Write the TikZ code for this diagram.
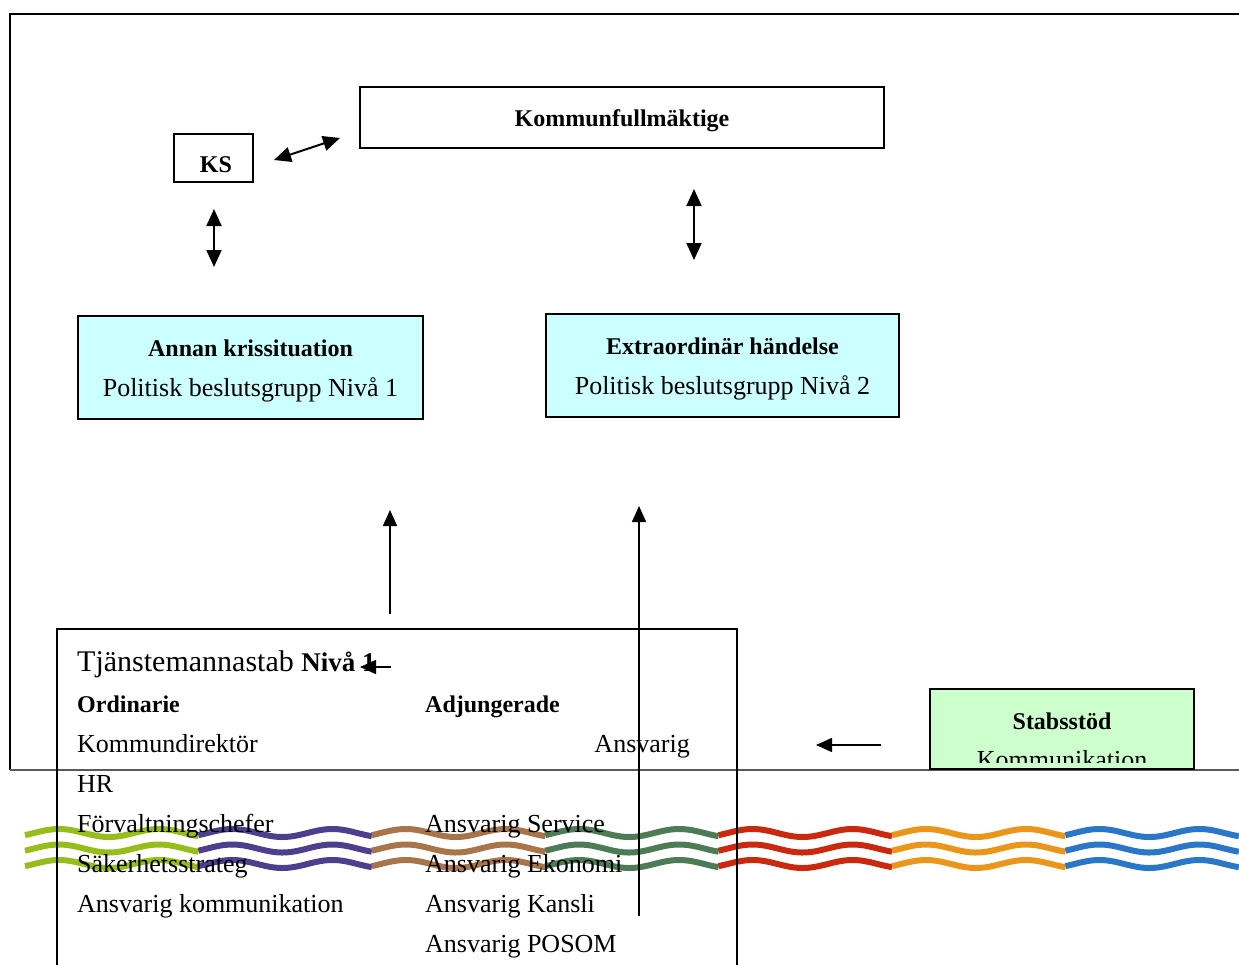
\documentclass[tikz,border=0pt]{standalone}
\usepackage{fontspec}
\setmainfont{Liberation Serif}
\usepackage[dvipsnames]{xcolor}
\definecolor{CrisisCyan}{HTML}{CCFFFF}
\definecolor{StaffGreen}{HTML}{CCFFCC}
\definecolor{WaveLime}{HTML}{97BD1C}
\definecolor{WavePurple}{HTML}{4E3F8E}
\definecolor{WaveBrown}{HTML}{A8754B}
\definecolor{WaveGreen}{HTML}{4C7B55}
\definecolor{WaveRed}{HTML}{C9290F}
\definecolor{WaveOrange}{HTML}{E9961B}
\definecolor{WaveBlue}{HTML}{2B77C7}
\usetikzlibrary{backgrounds}
\usetikzlibrary{calc}
\usetikzlibrary{arrows.meta}
\newcommand{\wavelen}{173.4}
\newcommand{\waveamp}{4}
\newcommand{\wavedeg}{3.6}% 360 / 100
\newcommand{\wavephase}{34}
\newcommand{\wavewidth}{6pt}
\newcommand{\waveys}{833}
\newcommand{\wavedy}{15.5}
\newcommand{\colleft}{77}
\newcommand{\colright}{425}
\newcommand{\bodyfont}{\fontsize{26}{30}\selectfont}
\newcommand{\headfont}{\fontsize{24}{30}\selectfont\bfseries}
\newcommand{\wavepart}[2]{
  \foreach \wrow in {0,1,2} {
    \draw[color=#1, line width=\wavewidth, shift={(#2,\waveys)}]
      plot[domain=0:\wavelen, samples=70]
      (\x, {\wrow*\wavedy - \waveamp*cos(\wavedeg*(\x - \wavephase))});
  }
}

\begin{document}
\begin{tikzpicture}[x=1pt, y=-1pt,
    box/.style={draw, line width=1.6pt, inner sep=0pt},
    coltxt/.style={inner sep=0pt, anchor=base west, font=\bodyfont},
    headtxt/.style={inner sep=0pt, anchor=base, font=\headfont},
    bodytxt/.style={inner sep=0pt, anchor=base, font=\bodyfont},
    dbl/.style={line width=2pt,
      {Triangle[length=17pt,width=15pt]}-{Triangle[length=17pt,width=15pt]}},
    sgl/.style={line width=1.6pt, -{Triangle[length=16pt,width=14pt]}}]
    \useasboundingbox (0,0) rectangle (1239,964);
    \clip (0,0) rectangle (1239,964);

    % page frame
    \draw[line width=1.5pt] (1239,14) -- (10,14) -- (10,770);
    \draw[line width=1.2pt, black!65] (10,770) -- (1239,770);

    % politics part
    \node[box, minimum width=524pt, minimum height=61pt] (kf) at (622,117.5) {};
    \node[headtxt] (kfhead) at (622,126) {Kommunfullmäktige};
    \node[box, minimum width=79pt, minimum height=48pt] (ks) at (213.5,158) {};
    \node[headtxt] (kshead) at (216,172) {KS};

    \node[box, fill=CrisisCyan, minimum width=345pt, minimum height=103pt]
      (annan) at (250.5,367.5) {};
    \node[headtxt] (annanhead) at (250.5,356) {Annan krissituation};
    \node[bodytxt] (annanbody) at (250.5,396) {Politisk beslutsgrupp Nivå 1};
    \node[box, fill=CrisisCyan, minimum width=353pt, minimum height=103pt]
      (extra) at (722.5,365.5) {};
    \node[headtxt] (extrahead) at (722.5,354) {Extraordinär händelse};
    \node[bodytxt] (extrabody) at (722.5,394) {Politisk beslutsgrupp Nivå 2};

    \coordinate (ksright) at (274,160);
    \coordinate (kfleft) at (340,138);
    \coordinate (ksbelow) at (214,209);
    \coordinate (annanabove) at (214,267);
    \coordinate (kfbelow) at (694,189);
    \coordinate (extraabove) at (694,260);
    \draw[dbl] (ksright) -- (kfleft);
    \draw[dbl] (ksbelow) -- (annanabove);
    \draw[dbl] (kfbelow) -- (extraabove);

    % officials part
    \node[box, anchor=north west, minimum width=680pt, minimum height=400pt]
      (tjm) at (56,628) {};
    \node[coltxt] (tjmtitle) at (\colleft,671)
      {\fontsize{30}{30}\selectfont Tjänstemannastab
       {\fontsize{27}{30}\selectfont\bfseries Nivå 1}};
    \node[coltxt, font=\headfont] (ordhead) at (\colleft,712) {Ordinarie};
    \node[coltxt, font=\headfont] (adjhead) at (\colright,712) {Adjungerade};
    \node[coltxt] (ord1) at (\colleft,752) {Kommundirektör};
    \node[coltxt, anchor=base east] (adj0) at (690,752) {Ansvarig};
    \node[coltxt] (ord2) at (\colleft,792) {HR};
    \node[coltxt] (ord3) at (\colleft,832) {Förvaltningschefer};
    \node[coltxt] (adj1) at (\colright,832) {Ansvarig Service};
    \node[coltxt] (ord4) at (\colleft,872) {Säkerhetsstrateg};
    \node[coltxt] (adj2) at (\colright,872) {Ansvarig Ekonomi};
    \node[coltxt] (ord5) at (\colleft,912) {Ansvarig kommunikation};
    \node[coltxt] (adj3) at (\colright,912) {Ansvarig Kansli};
    \node[coltxt] (adj4) at (\colright,952) {Ansvarig POSOM};

    % staff support part
    \node[box, fill=StaffGreen, minimum width=264pt, minimum height=80pt]
      (stab) at (1062,729) {};
    \node[headtxt] (stabhead) at (1062,729) {Stabsstöd};
    \begin{scope}
      \clip (931,690) rectangle (1193,762);
      \node[bodytxt] (stabbody) at (1062,768) {Kommunikation};
    \end{scope}

    \coordinate (tjmtop) at (390,614);
    \coordinate (annanlow) at (390,510);
    \coordinate (tjmlow) at (639,916);
    \coordinate (extralow) at (639,506);
    \coordinate (stableft) at (881,745);
    \coordinate (tjmright) at (816,745);
    \coordinate (nivaright) at (391,667);
    \coordinate (nivaleft) at (360,667);
    \draw[sgl] (tjmtop) -- (annanlow);
    \draw[sgl] (tjmlow) -- (extralow);
    \draw[sgl] (stableft) -- (tjmright);
    \draw[sgl] (nivaright) -- (nivaleft);

    \begin{scope}[on background layer]
      % wave band
      \wavepart{WaveLime}{25}
      \wavepart{WavePurple}{198.4}
      \wavepart{WaveBrown}{371.8}
      \wavepart{WaveGreen}{545.2}
      \wavepart{WaveRed}{718.6}
      \wavepart{WaveOrange}{892}
      \wavepart{WaveBlue}{1065.4}
    \end{scope}
  \end{tikzpicture}
\end{document}
